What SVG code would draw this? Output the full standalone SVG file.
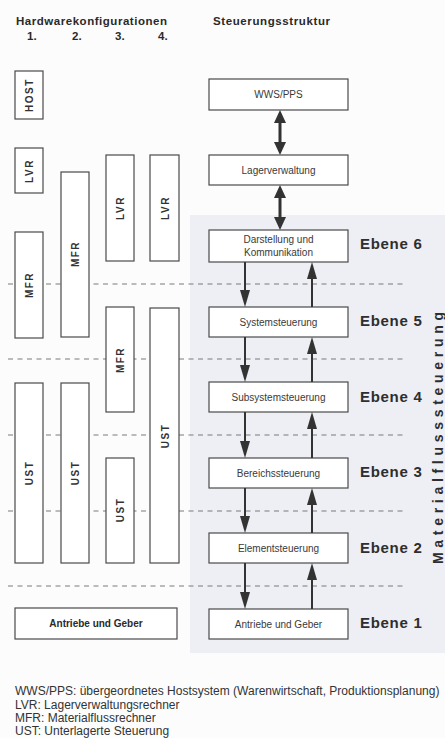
<svg xmlns="http://www.w3.org/2000/svg" width="445" height="738" viewBox="0 0 445 738">
<style>
.bx{fill:#fff;stroke:#4a4a4a;stroke-width:1.2}
.dash{stroke:#7a7a7a;stroke-width:1.2;stroke-dasharray:5,4.5;fill:none}
.hd{font-family:"Liberation Sans",Arial,sans-serif;font-weight:bold;font-size:11.5px;fill:#2a2a2a}
.vl{font-family:"Liberation Sans",Arial,sans-serif;font-weight:bold;font-size:10px;fill:#333;letter-spacing:1.5px;text-anchor:middle}
.bt{font-family:"Liberation Sans",Arial,sans-serif;font-size:10px;fill:#3a3a3a;text-anchor:middle}
.eb{font-family:"Liberation Sans",Arial,sans-serif;font-weight:bold;font-size:15px;fill:#2e2e2e;letter-spacing:0.7px}
.lg{font-family:"Liberation Sans",Arial,sans-serif;font-size:12px;fill:#333}
.thick{stroke:#333;stroke-width:3;fill:none}
.thin{stroke:#333;stroke-width:2;fill:none}
</style>
<defs>
<marker id="hb" markerUnits="userSpaceOnUse" markerWidth="13" markerHeight="12" refX="9" refY="6" orient="auto-start-reverse"><path d="M0,0 L13,6 L0,12 z" fill="#333"/></marker>
<marker id="hs" markerUnits="userSpaceOnUse" markerWidth="17" markerHeight="10" refX="13" refY="5" orient="auto"><path d="M0,0 L17,5 L0,10 z" fill="#333"/></marker>
</defs>
<rect x="0" y="0" width="445" height="738" fill="#fcfcfc"/>
<rect x="190" y="215" width="255" height="438" fill="#edeff5"/>

<g id="headers">
<text class="hd" x="16" y="25" textLength="151" lengthAdjust="spacing">Hardwarekonfigurationen</text>
<text class="hd" x="27" y="40">1.</text>
<text class="hd" x="72" y="40">2.</text>
<text class="hd" x="115" y="40">3.</text>
<text class="hd" x="158" y="40">4.</text>
<text class="hd" x="213" y="25" textLength="117" lengthAdjust="spacing">Steuerungsstruktur</text>
</g>

<g id="levels">
<line class="dash" x1="8" y1="284" x2="405" y2="284"/>
<line class="dash" x1="8" y1="359" x2="405" y2="359"/>
<line class="dash" x1="8" y1="435" x2="405" y2="435"/>
<line class="dash" x1="8" y1="511" x2="405" y2="511"/>
<line class="dash" x1="8" y1="586" x2="405" y2="586"/>
</g>

<g id="c1-host"><rect class="bx" x="15" y="71" width="28" height="48"/><text class="vl" transform="translate(33,95) rotate(-90)">HOST</text></g>
<g id="c1-lvr"><rect class="bx" x="15" y="148" width="28" height="45"/><text class="vl" transform="translate(33,171) rotate(-90)">LVR</text></g>
<g id="c1-mfr"><rect class="bx" x="15" y="232" width="28" height="106"/><text class="vl" transform="translate(33,285) rotate(-90)">MFR</text></g>
<g id="c1-ust"><rect class="bx" x="15" y="383" width="28" height="180"/><text class="vl" transform="translate(33,473) rotate(-90)">UST</text></g>

<g id="c2-mfr"><rect class="bx" x="61" y="172" width="28" height="165"/><text class="vl" transform="translate(79,254) rotate(-90)">MFR</text></g>
<g id="c2-ust"><rect class="bx" x="61" y="383" width="28" height="180"/><text class="vl" transform="translate(79,473) rotate(-90)">UST</text></g>

<g id="c3-lvr"><rect class="bx" x="106" y="155" width="28" height="106"/><text class="vl" transform="translate(124,208) rotate(-90)">LVR</text></g>
<g id="c3-mfr"><rect class="bx" x="106" y="307" width="28" height="105"/><text class="vl" transform="translate(124,360) rotate(-90)">MFR</text></g>
<g id="c3-ust"><rect class="bx" x="106" y="458" width="28" height="105"/><text class="vl" transform="translate(124,510) rotate(-90)">UST</text></g>

<g id="c4-lvr"><rect class="bx" x="150" y="155" width="29" height="106"/><text class="vl" transform="translate(169,208) rotate(-90)">LVR</text></g>
<g id="c4-ust"><rect class="bx" x="150" y="308" width="29" height="255"/><text class="vl" transform="translate(169,436) rotate(-90)">UST</text></g>

<g id="hw-antriebe"><rect class="bx" x="15" y="608" width="162" height="31"/><text class="bt" x="96" y="627" style="font-weight:bold;fill:#2a2a2a">Antriebe und Geber</text></g>

<g id="wws"><rect class="bx" x="209" y="79" width="139" height="31"/><text class="bt" x="278.5" y="98">WWS/PPS</text></g>
<g id="lager"><rect class="bx" x="209" y="155" width="139" height="30"/><text class="bt" x="278.5" y="174">Lagerverwaltung</text></g>
<g id="darstellung"><rect class="bx" x="209" y="230" width="139" height="32"/><text class="bt" x="278.5" y="243">Darstellung und</text><text class="bt" x="278.5" y="256">Kommunikation</text></g>
<g id="system"><rect class="bx" x="209" y="307" width="139" height="30"/><text class="bt" x="278.5" y="326">Systemsteuerung</text></g>
<g id="subsystem"><rect class="bx" x="209" y="382" width="139" height="30"/><text class="bt" x="278.5" y="401">Subsystemsteuerung</text></g>
<g id="bereich"><rect class="bx" x="209" y="458" width="139" height="30"/><text class="bt" x="278.5" y="477">Bereichssteuerung</text></g>
<g id="element"><rect class="bx" x="209" y="533" width="139" height="30"/><text class="bt" x="278.5" y="552">Elementsteuerung</text></g>
<g id="antriebe"><rect class="bx" x="209" y="609" width="139" height="30"/><text class="bt" x="278.5" y="628">Antriebe und Geber</text></g>

<g id="connectors">
<line class="thick" x1="280" y1="114" x2="280" y2="151" marker-start="url(#hb)" marker-end="url(#hb)"/>
<line class="thick" x1="280" y1="189" x2="280" y2="226" marker-start="url(#hb)" marker-end="url(#hb)"/>
<line class="thin" x1="245" y1="262" x2="245" y2="303" marker-end="url(#hs)"/>
<line class="thin" x1="245" y1="337" x2="245" y2="378" marker-end="url(#hs)"/>
<line class="thin" x1="245" y1="412" x2="245" y2="454" marker-end="url(#hs)"/>
<line class="thin" x1="245" y1="488" x2="245" y2="529" marker-end="url(#hs)"/>
<line class="thin" x1="245" y1="563" x2="245" y2="605" marker-end="url(#hs)"/>
<line class="thin" x1="312" y1="307" x2="312" y2="266" marker-end="url(#hs)"/>
<line class="thin" x1="312" y1="382" x2="312" y2="341" marker-end="url(#hs)"/>
<line class="thin" x1="312" y1="458" x2="312" y2="416" marker-end="url(#hs)"/>
<line class="thin" x1="312" y1="533" x2="312" y2="492" marker-end="url(#hs)"/>
<line class="thin" x1="312" y1="609" x2="312" y2="567" marker-end="url(#hs)"/>
</g>

<g id="ebenen">
<text class="eb" x="360" y="249">Ebene 6</text>
<text class="eb" x="360" y="326">Ebene 5</text>
<text class="eb" x="360" y="402">Ebene 4</text>
<text class="eb" x="360" y="477">Ebene 3</text>
<text class="eb" x="360" y="553">Ebene 2</text>
<text class="eb" x="360" y="628">Ebene 1</text>
</g>

<g id="materialfluss">
<text transform="translate(443,438) rotate(-90)" text-anchor="middle" textLength="252" lengthAdjust="spacing" style="font-family:'Liberation Sans',Arial,sans-serif;font-weight:bold;font-size:14px;fill:#2e2e2e">Materialflusssteuerung</text>
</g>

<g id="legend">
<text class="lg" x="15" y="695">WWS/PPS: übergeordnetes Hostsystem (Warenwirtschaft, Produktionsplanung)</text>
<text class="lg" x="15" y="709">LVR: Lagerverwaltungsrechner</text>
<text class="lg" x="15" y="722">MFR: Materialflussrechner</text>
<text class="lg" x="15" y="735">UST: Unterlagerte Steuerung</text>
</g>
</svg>
